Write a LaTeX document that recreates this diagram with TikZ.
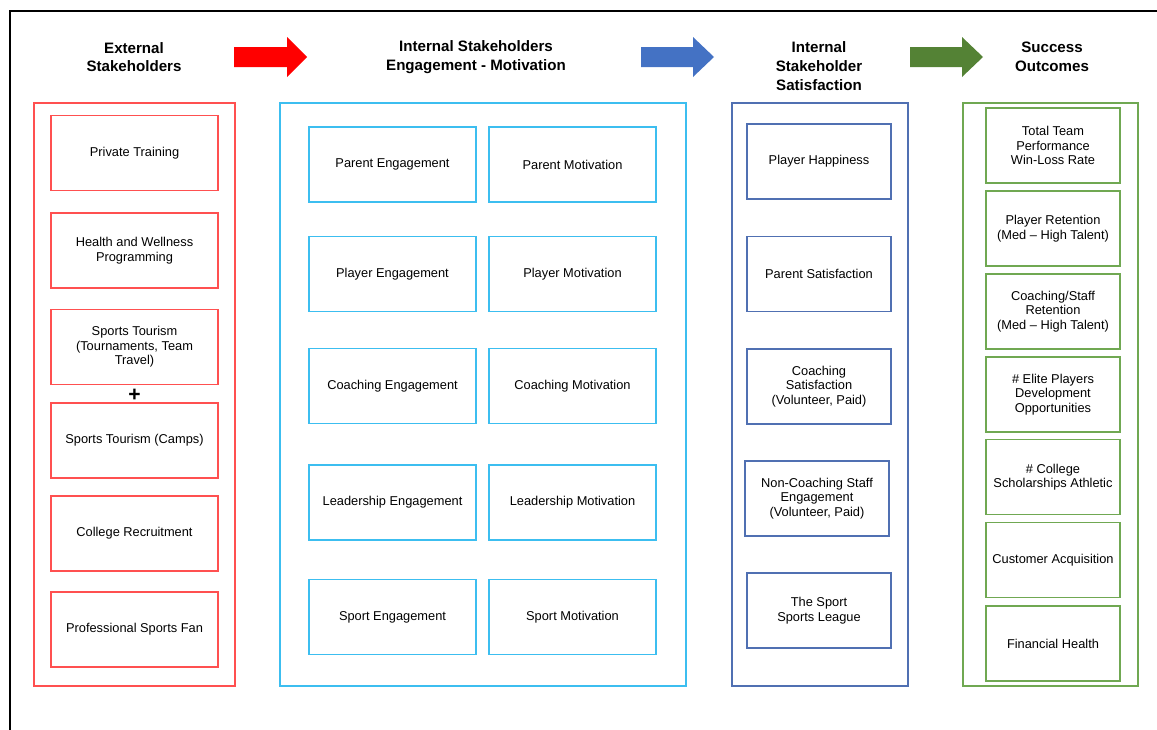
\documentclass[tikz,border=0pt]{standalone}
\usepackage{fontspec}
\setmainfont{Liberation Sans}
\usepackage{tikz}
\definecolor{extred}{RGB}{255,80,80}
\definecolor{arrred}{RGB}{255,0,0}
\definecolor{engcyan}{RGB}{60,190,240}
\definecolor{satblue}{RGB}{80,112,178}
\definecolor{arrblue}{RGB}{68,114,196}
\definecolor{outgreen}{RGB}{112,168,82}
\definecolor{arrgreen}{RGB}{84,130,53}
\tikzset{
    hdr/.style={align=center,font=\fontsize{8.6}{10.6}\selectfont\bfseries},
    item/.style={draw,line width=0.9pt,inner sep=0pt,align=center,minimum height=1.5cm,font=\fontsize{7.3}{8.3}\selectfont},
    extbox/.style={item,extred,text=black,minimum width=3.34cm},
    engbox/.style={item,engcyan,text=black,minimum width=3.34cm},
    satbox/.style={item,satblue,text=black,minimum width=2.88cm},
    outbox/.style={item,outgreen,text=black,minimum width=2.68cm},
}

\begin{document}
\begin{tikzpicture}[x=0.02cm,y=-0.02cm]
    \useasboundingbox (0,0) rectangle (1157,730);
    \draw[line width=1.2pt] (10,730) --(10,11) --(1157,11);

    \node[hdr] (hext) at (134,57) {External\\Stakeholders};
    \node[hdr] (heng) at (476,57) {Internal Stakeholders\\Engagement - Motivation};
    \node[hdr] (hsat) at (819,66) {Internal\\Stakeholder\\Satisfaction};
    \node[hdr] (hout) at (1052,57) {Success\\Outcomes};

    \fill[arrred] (234,47) --(287,47) --(287,37) --(307,57) --(287,77) --(287,67) --(234,67) --cycle;
    \fill[arrblue] (641,47) --(693,47) --(693,37) --(714,57) --(693,77) --(693,67) --(641,67) --cycle;
    \fill[arrgreen] (910,47) --(962,47) --(962,37) --(983,57) --(962,77) --(962,67) --(910,67) --cycle;

    \draw[extred,line width=0.9pt] (34,103) rectangle (235,686);
    \draw[engcyan,line width=0.9pt] (280,103) rectangle (686,686);
    \draw[satblue,line width=0.9pt] (732,103) rectangle (908,686);
    \draw[outgreen,line width=0.9pt] (963,103) rectangle (1138,686);

    \node[extbox] (train) at (134.5,153) {Private Training};
    \node[extbox] (health) at (134.5,250.5) {Health and Wellness\\Programming};
    \node[extbox] (tour) at (134.5,347) {Sports Tourism\\(Tournaments, Team\\Travel)};
    \node[extbox] (camps) at (134.5,440.5) {Sports Tourism (Camps)};
    \node[extbox] (college) at (134.5,533.5) {College Recruitment};
    \node[extbox] (fan) at (134.5,629.5) {Professional Sports Fan};
    \node[font=\fontsize{12}{12}\selectfont\bfseries] (plus) at (134.5,395) {+};

    \node[engbox] (pareng) at (392.5,164.5) {Parent Engagement};
    \node[engbox] (parmot) at (572.5,164.5) {Parent Motivation};
    \node[engbox] (plaeng) at (392.5,274) {Player Engagement};
    \node[engbox] (plamot) at (572.5,274) {Player Motivation};
    \node[engbox] (coaeng) at (392.5,386) {Coaching Engagement};
    \node[engbox] (coamot) at (572.5,386) {Coaching Motivation};
    \node[engbox] (leaeng) at (392.5,502.5) {Leadership Engagement};
    \node[engbox] (leamot) at (572.5,502.5) {Leadership Motivation};
    \node[engbox] (spoeng) at (392.5,617) {Sport Engagement};
    \node[engbox] (spomot) at (572.5,617) {Sport Motivation};

    \node[satbox] (happy) at (819,161.5) {Player Happiness};
    \node[satbox] (parsat) at (819,274) {Parent Satisfaction};
    \node[satbox] (coasat) at (819,386.5) {Coaching\\Satisfaction\\(Volunteer, Paid)};
    \node[satbox] (staff) at (817,498.5) {Non-Coaching Staff\\Engagement\\(Volunteer, Paid)};
    \node[satbox] (league) at (819,610.5) {The Sport\\Sports League};

    \node[outbox] (winloss) at (1053,145.5) {Total Team\\Performance\\Win-Loss Rate};
    \node[outbox] (plaret) at (1053,228.5) {Player Retention\\(Med -- High Talent)};
    \node[outbox] (coaret) at (1053,311.5) {Coaching/Staff\\Retention\\(Med -- High Talent)};
    \node[outbox] (elite) at (1053,394.5) {\# Elite Players\\Development\\Opportunities};
    \node[outbox] (schol) at (1053,477) {\# College\\Scholarships Athletic};
    \node[outbox] (cust) at (1053,560) {Customer Acquisition};
    \node[outbox] (money) at (1053,643.5) {Financial Health};

\end{tikzpicture}
\end{document}
